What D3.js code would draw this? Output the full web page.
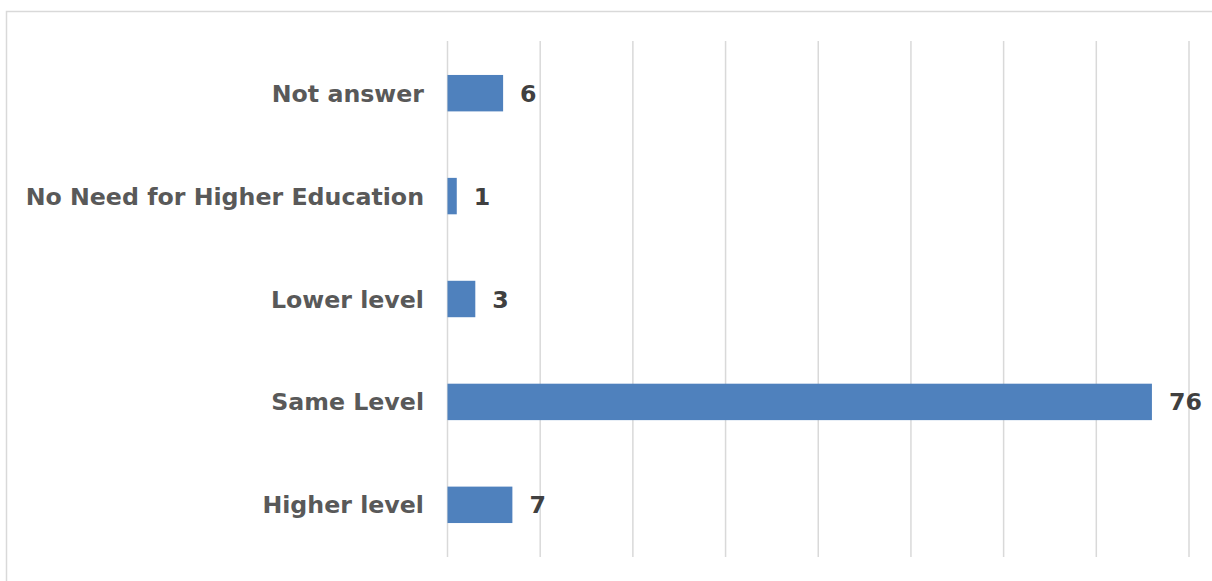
<!DOCTYPE html>
<html>
<head>
<meta charset="utf-8">
<script src="https://cdn.jsdelivr.net/npm/d3@7"></script>
<style>
html,body{margin:0;padding:0;background:#fff;overflow:hidden;}
svg{display:block;}
</style>
</head>
<body>
<svg id="chart" width="1212" height="581"></svg>
<script>
const categories = ["Not answer", "No Need for Higher Education", "Lower level", "Same Level", "Higher level"];
const values = [6, 1, 3, 76, 7];
const xTicks = [0, 10, 20, 30, 40, 50, 60, 70, 80];

const svg = d3.select("#chart");

// chart border (extends past right/bottom edges)
svg.append("rect")
  .attr("x", 6.5).attr("y", 11.5)
  .attr("width", 1300).attr("height", 700)
  .attr("fill", "#fff").attr("stroke", "#d9d9d9").attr("stroke-width", 1.5);

const plot = {left: 447.5, right: 1189, top: 41, bottom: 557};

const x = d3.scaleLinear().domain([0, 80]).range([plot.left, plot.right]);
const y = d3.scaleBand().domain(categories).range([plot.top, plot.bottom])
  .paddingInner(0.646).paddingOuter(0.33);

// gridlines
svg.append("g").selectAll("line").data(xTicks).join("line")
  .attr("x1", d => x(d)).attr("x2", d => x(d))
  .attr("y1", plot.top).attr("y2", plot.bottom)
  .attr("stroke", "#d9d9d9").attr("stroke-width", 1.5);

// bars
svg.append("g").selectAll("rect").data(values).join("rect")
  .attr("x", x(0))
  .attr("y", (d, i) => y(categories[i]))
  .attr("width", d => x(d) - x(0))
  .attr("height", y.bandwidth())
  .attr("fill", "#4f81bd");

const font = "'DejaVu Sans', Verdana, sans-serif";

// category labels
svg.append("g").selectAll("text").data(categories).join("text")
  .attr("x", 424)
  .attr("y", d => y(d) + y.bandwidth() / 2)
  .attr("dy", "0.36em")
  .attr("text-anchor", "end")
  .attr("font-family", font).attr("font-weight", "bold").attr("font-size", "23.7px")
  .attr("fill", "#595959")
  .text(d => d);

// value labels
svg.append("g").selectAll("text").data(values).join("text")
  .attr("x", d => x(d) + 17)
  .attr("y", (d, i) => y(categories[i]) + y.bandwidth() / 2)
  .attr("dy", "0.36em")
  .attr("font-family", font).attr("font-weight", "bold").attr("font-size", "23.7px")
  .attr("fill", "#404040")
  .text(d => d);
</script>
</body>
</html>
